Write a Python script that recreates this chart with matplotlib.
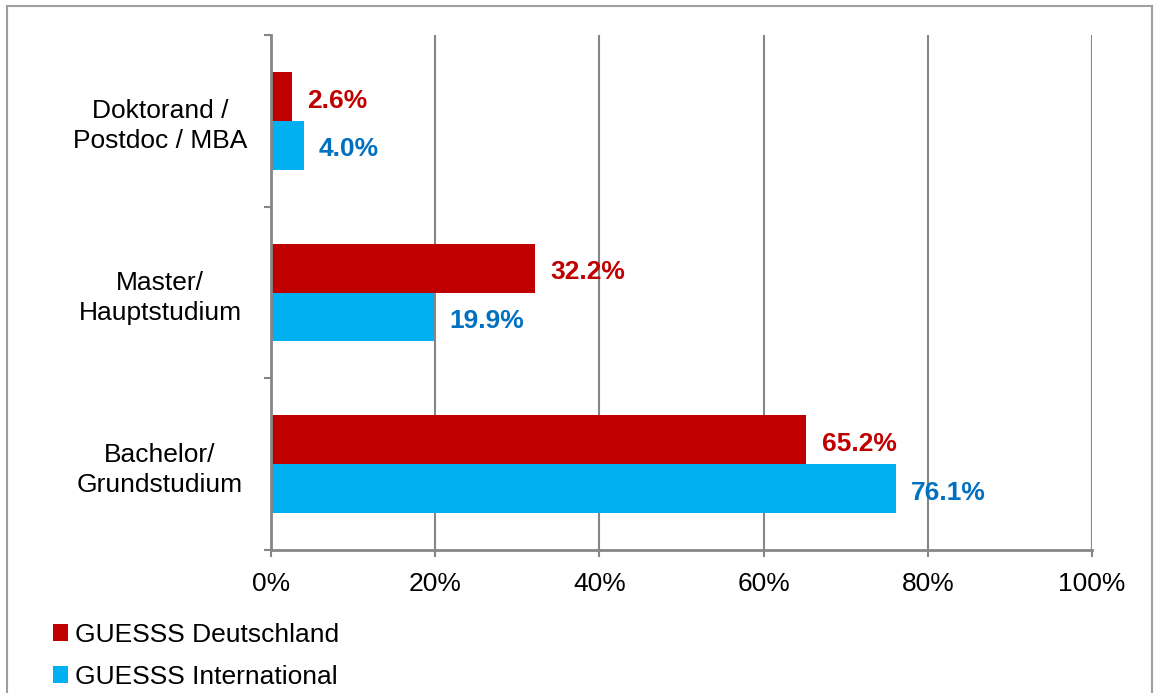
import matplotlib
matplotlib.use("Agg")
import matplotlib.pyplot as plt
from matplotlib.lines import Line2D
from matplotlib.patches import Patch
from matplotlib.ticker import FixedLocator, FuncFormatter

plt.rcParams['font.family'] = ['Liberation Sans', 'DejaVu Sans']

categories = ["Bachelor/\nGrundstudium", "Master/\nHauptstudium", "Doktorand /\nPostdoc / MBA"]
deutschland = [65.2, 32.2, 2.6]
international = [76.1, 19.9, 4.0]
series_names = ["GUESSS Deutschland", "GUESSS International"]
xticks = [0, 20, 40, 60, 80, 100]

red = "#C00000"
blue = "#00B0F0"
red_txt = "#C00000"
blue_txt = "#0070C0"
grid_c = "#868686"
FS = 19

fig = plt.figure(figsize=(11.6, 6.93), dpi=100)
ax = fig.add_axes([271/1160, 1-550/693, (1092-271)/1160, (550-35)/693])

h = 0.285
ypos = list(range(len(categories)))
ax.barh([y + h/2 for y in ypos], deutschland, height=h, color=red, zorder=3)
ax.barh([y - h/2 for y in ypos], international, height=h, color=blue, zorder=3)

for y, v in zip(ypos, deutschland):
    ax.annotate(f"{v:.1f}%", (v, y + h/2), xytext=(11, -3), textcoords="offset points",
                ha="left", va="center", color=red_txt, fontsize=FS, fontweight="bold")
for y, v in zip(ypos, international):
    ax.annotate(f"{v:.1f}%", (v, y - h/2), xytext=(11, -3), textcoords="offset points",
                ha="left", va="center", color=blue_txt, fontsize=FS, fontweight="bold")

ax.set_xlim(0, 100)
ax.set_ylim(-0.5, 2.5)
ax.set_xticks(xticks)
ax.xaxis.set_major_formatter(FuncFormatter(lambda v, p: f"{int(v)}%"))
ax.set_yticks(ypos)
ax.set_yticklabels(categories, fontsize=FS, linespacing=1.32)
ax.yaxis.set_minor_locator(FixedLocator([-0.5, 0.5, 1.5, 2.5]))
ax.tick_params(axis='y', which='major', length=0, pad=0)
ax.tick_params(axis='y', which='minor', length=5, width=1.5, color=grid_c)
ax.tick_params(axis='x', which='major', length=5, width=1.5, color=grid_c, labelsize=FS, pad=11)
for lbl in ax.get_yticklabels():
    lbl.set_ha("center")
    lbl.set_position((-(271-160)/821, 0))

ax.grid(axis='x', color=grid_c, linewidth=1.5, zorder=0)
for s in ["top", "right"]:
    ax.spines[s].set_visible(False)
for s in ["left", "bottom"]:
    ax.spines[s].set_color(grid_c)
    ax.spines[s].set_linewidth(2)
    ax.spines[s].set_zorder(4)

handles = [Patch(facecolor=red, edgecolor='none'), Patch(facecolor=blue, edgecolor='none')]
fig.legend(handles, series_names, loc="upper left", bbox_to_anchor=(42/1160, 1-612/693),
           frameon=False, fontsize=FS, handlelength=0.6, handleheight=0.6,
           handletextpad=0.25, labelspacing=0.68, borderaxespad=0)

# outer border
fig.add_artist(Line2D([7/1160, 7/1160], [0, 1-6/693], color="#A0A0A0", lw=1.5, transform=fig.transFigure))
fig.add_artist(Line2D([7/1160, 1152/1160], [1-6/693, 1-6/693], color="#A0A0A0", lw=1.5, transform=fig.transFigure))
fig.add_artist(Line2D([1152/1160, 1152/1160], [0, 1-6/693], color="#A0A0A0", lw=1.5, transform=fig.transFigure))

fig.savefig("out.png", dpi=100)
